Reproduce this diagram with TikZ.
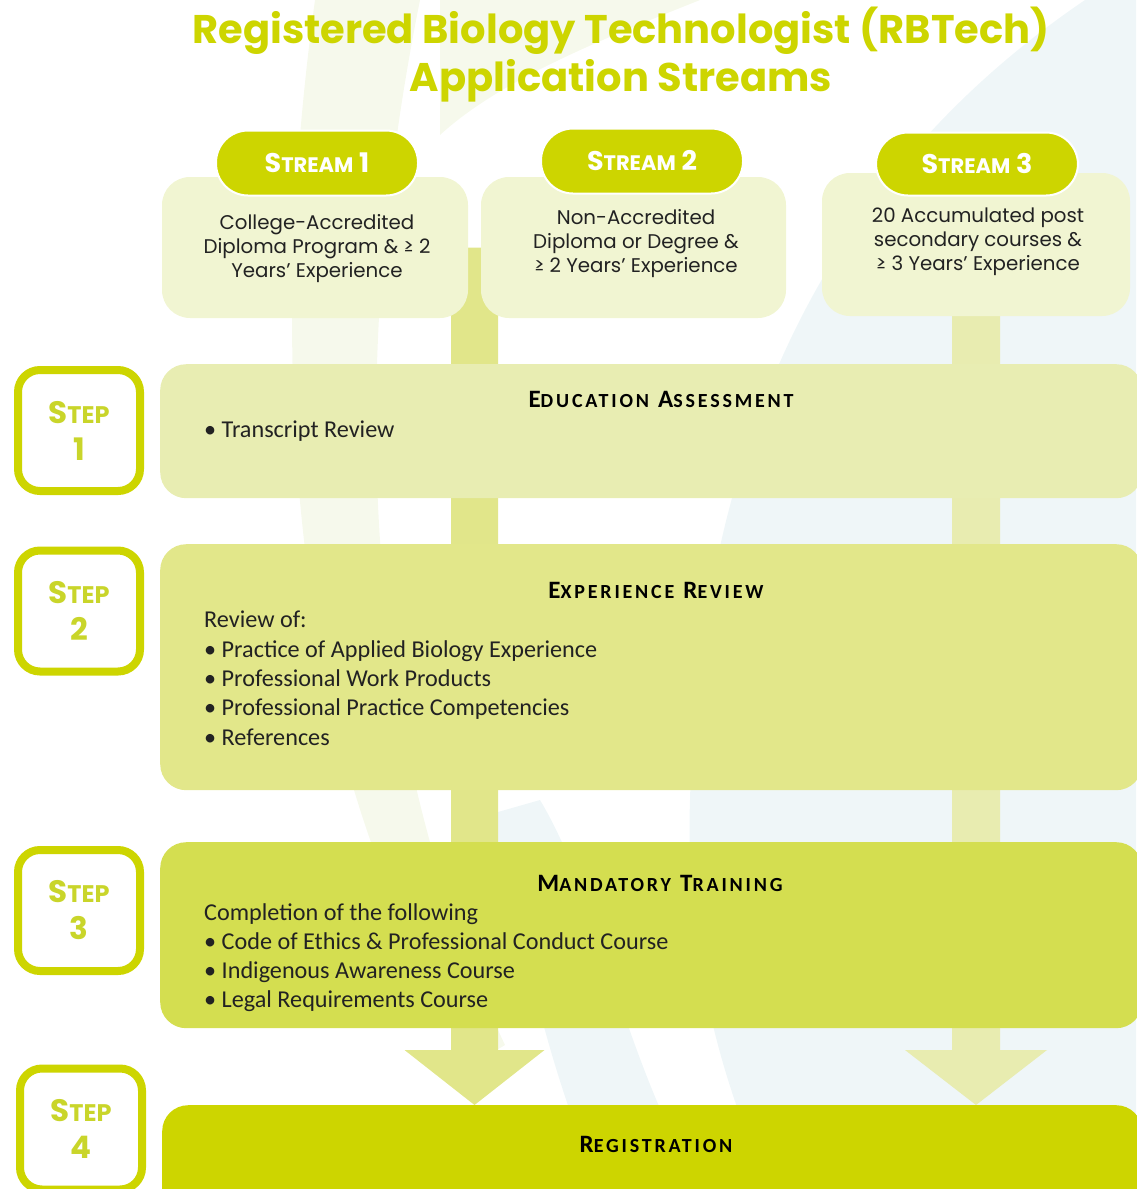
\documentclass[tikz,border=0pt]{standalone}
\usepackage{fontspec}
\setmainfont{Carlito}
\newfontfamily\gfont{Poppins}
\newfontfamily\headfont{Carlito}[LetterSpace=14]
\usetikzlibrary{positioning,calc}

\definecolor{rbgreen}{HTML}{CDD500}
\definecolor{steptext}{HTML}{C9D52A}
\definecolor{boxpale}{HTML}{F1F5D2}
\definecolor{eafill}{HTML}{E8EDB2}
\definecolor{erfill}{HTML}{E2E78A}
\definecolor{mtfill}{HTML}{D4DE50}
\definecolor{barA}{HTML}{E1E68A}
\definecolor{barB}{HTML}{E8ECB0}
\definecolor{bggreen}{HTML}{F6F9EC}
\definecolor{bgblue}{HTML}{EFF6F8}
\definecolor{textdark}{HTML}{222222}

\pgfdeclarelayer{bg}
\pgfsetlayers{bg,main}

\newcommand{\sm}[2]{{\fontsize{#1}{#1}\selectfont #2}}

\tikzset{
  streambox/.style={rounded corners=28pt, fill=boxpale, minimum width=306pt,
    minimum height=141pt, inner sep=0pt},
  pill/.style={rounded corners=32pt, fill=rbgreen, draw=white, line width=2pt,
    minimum width=202pt, minimum height=65pt, inner sep=0pt, text=white,
    font=\gfont\bfseries\fontsize{27}{27}\selectfont},
  streamtxt/.style={align=center, inner sep=0pt, text=textdark,
    font=\gfont\fontsize{19.8}{24}\selectfont},
  stepbox/.style={rounded corners=26pt, minimum width=982pt, anchor=north west,
    inner sep=0pt},
  steplabel/.style={draw=rbgreen, line width=8pt, fill=white, rounded corners=22pt,
    minimum width=122pt, minimum height=121pt, inner sep=0pt},
  steptxt/.style={align=center, inner sep=0pt, text=steptext,
    font=\gfont\bfseries\fontsize{31}{37}\selectfont},
  headtxt/.style={inner sep=0pt, text=black, font=\headfont\bfseries\fontsize{25}{25}\selectfont},
  bodytxt/.style={align=left, anchor=north west, inner sep=0pt, text=textdark,
    font=\fontsize{24.2}{29.3}\selectfont}
}

\begin{document}
\begin{tikzpicture}[x=1pt,y=1pt]
\useasboundingbox (0,0) rectangle (1136,-1189);

% title
\node[align=center, text=rbgreen, font=\gfont\bfseries\fontsize{40}{48}\selectfont] (title) at (621,-55)
  {Registered Biology Technologist (RBTech)\\Application Streams};

% streams
\node[streambox] (s1) at (315,-247.5) {};
\node[streambox, minimum width=305pt] (s2) at (633.5,-247.5) {};
\node[streambox, minimum width=308pt, minimum height=143pt] (s3) at (976,-244.5) {};
\node[pill] (p1) at (317,-163) {S\sm{21}{TREAM} 1};
\node[pill] (p2) at (642,-161) {S\sm{21}{TREAM} 2};
\node[pill, minimum height=63pt] (p3) at (977,-164) {S\sm{21}{TREAM} 3};
\node[streamtxt] (t1) at (317,-249) {College-Accredited\\Diploma Program \& ≥ 2\\Years’ Experience};
\node[streamtxt] (t2) at (636,-244) {Non-Accredited\\Diploma or Degree \&\\≥ 2 Years’ Experience};
\node[streamtxt] (t3) at (978,-242) {20 Accumulated post\\secondary courses \&\\≥ 3 Years’ Experience};

% steps
\node[stepbox, fill=eafill, minimum height=134pt] (ea) at (160,-364) {};
\node[stepbox, fill=erfill, minimum height=246pt] (er) at (160,-544) {};
\node[stepbox, fill=mtfill, minimum height=186pt] (mt) at (160,-842) {};
\node[stepbox, fill=rbgreen, minimum height=110pt, minimum width=980pt] (reg) at (162,-1105) {};

\node[steplabel] (l1) at (79,-430.5) {};
\node[steplabel] (l2) at (79,-611) {};
\node[steplabel] (l3) at (79,-910.5) {};
\node[steplabel] (l4) at (81,-1129) {};
\node[steptxt] at (l1.center) {S\sm{24}{TEP}\\1};
\node[steptxt] at (l2.center) {S\sm{24}{TEP}\\2};
\node[steptxt] at (l3.center) {S\sm{24}{TEP}\\3};
\node[steptxt] at (l4.center) {S\sm{24}{TEP}\\4};

% headings
\node[headtxt] (h1) at (661,-399) {E\sm{20}{DUCATION} A\sm{20}{SSESSMENT}};
\node[headtxt] (h2) at (656,-590) {E\sm{20}{XPERIENCE} R\sm{20}{EVIEW}};
\node[headtxt] (h3) at (660,-883) {M\sm{20}{ANDATORY} T\sm{20}{RAINING}};
\node[headtxt] (h4) at (656,-1144) {R\sm{20}{EGISTRATION}};

% bullets
\node[bodytxt] (b1) at (204,-421) {\textbullet\ Transcript Review};
\node[bodytxt] (b2) at (204,-611) {Review of:\\\textbullet\ Practice of Applied Biology Experience\\
  \textbullet\ Professional Work Products\\\textbullet\ Professional Practice Competencies\\
  \textbullet\ References};
\node[bodytxt] (b3) at (204,-903) {Completion of the following\\
  \textbullet\ Code of Ethics \& Professional Conduct Course\\
  \textbullet\ Indigenous Awareness Course\\\textbullet\ Legal Requirements Course};

% connectors
\coordinate (c12) at ($(s1.east)!0.5!(s2.west)$);
\coordinate (c3) at (s3.center);
\coordinate (tipA) at (c12 |- reg.north);
\coordinate (tipB) at (c3 |- reg.north);
\begin{pgfonlayer}{bg}
\fill[bgblue] (1085,0) .. controls (820,-180) and (700,-450) .. (690,-800)
  .. controls (685,-950) and (720,-1080) .. (770,-1189) -- (1136,-1189) -- (1136,0) -- cycle;
\fill[bgblue] (470,-820) .. controls (530,-900) and (520,-1000) .. (600,-1189) -- (700,-1189)
  .. controls (620,-1050) and (600,-900) .. (540,-800) -- cycle;
\fill[bggreen] (315,0) .. controls (260,-400) and (300,-800) .. (480,-1060) -- (505,-1045)
  .. controls (370,-760) and (340,-400) .. (420,0) -- cycle;
\fill[bggreen] (440,0) -- (700,0) .. controls (600,-40) and (500,-80) .. (440,-135) -- cycle;
\fill[barA] ($(c12)+(-23.5,0)$) -- ($(tipA)+(-23.5,55)$) -- ($(tipA)+(-70,55)$) -- (tipA)
  -- ($(tipA)+(70,55)$) -- ($(tipA)+(23.5,55)$) -- ($(c12)+(23.5,0)$) -- cycle;
\fill[barB] ($(c3)+(-24,0)$) -- ($(tipB)+(-24,55)$) -- ($(tipB)+(-71,55)$) -- (tipB)
  -- ($(tipB)+(71,55)$) -- ($(tipB)+(24,55)$) -- ($(c3)+(24,0)$) -- cycle;
\end{pgfonlayer}
\end{tikzpicture}
\end{document}
